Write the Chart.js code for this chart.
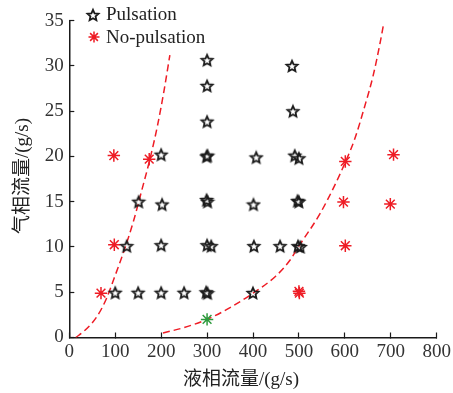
<!DOCTYPE html>
<html><head><meta charset="utf-8">
<script src="https://cdn.jsdelivr.net/npm/chart.js@4.4.1/dist/chart.umd.min.js"></script>
<style>html,body{margin:0;padding:0;background:#fff}canvas{display:block}</style>
</head><body>
<canvas id="c" width="453" height="393"></canvas>
<script>
// ---- data ----
const pulsationX = [100,150,200,250,298,301,400, 125,200,300,309,402,459,498,503, 151,202,299,301,401,497,500, 200,299,301,407,491,500, 300,300,300, 487,485];
const pulsationY = [4.95,4.95,4.95,4.95,5.0,4.9,4.93, 10.1,10.2,10.2,10.1,10.1,10.1,10.1,10.0, 15.0,14.7,15.2,15.0,14.7,15.1,15.0, 20.2,20.0,20.1,19.9,20.1,19.8, 23.85,27.8,30.65, 25.0,30.0];
const noPulsationX = [69,98,97,174,500,501,601,597,601,699,706];
const noPulsationY = [4.9,10.25,20.1,19.7,5.1,4.9,10.14,14.96,19.45,14.74,20.2];
const criticalX = [300];
const criticalY = [2.0];
const leftCurveX = [14,32,60,80,98,118,140,158,176,192,206,219];
const leftCurveY = [0,0.7,2.3,4.2,6.6,9.4,12.9,16.3,19.8,23.4,27.2,31.2];
const rightCurveX = [204,250,300,350,400,450,480,500,545,575,603,622,643,661,675,685];
const rightCurveY = [0.5,1.1,2.0,3.3,4.9,6.8,8.5,10.1,13.6,16.5,19.6,22.0,25.5,28.8,32.1,34.8];
const xTicks = [0,100,200,300,400,500,600,700,800];
const yTicks = [0,5,10,15,20,25,30,35];
const legendLabels = ['Pulsation','No-pulsation'];
const xTitle = '液相流量/(g/s)';
const yTitle = '气相流量/(g/s)';

const RED = '#ee1c25', GREEN = '#2e9a3e', BLACK = '#1a1a1a';
const SERIF = "'Liberation Serif','Times New Roman',serif";
const CJK = "'Liberation Serif','Noto Sans CJK SC',serif";

function pts(xs, ys){ return xs.map((x,i)=>({x:x, y:ys[i]})); }
function makeStar(size, ro, ri, color, lw){
  const c=document.createElement('canvas'); c.width=size; c.height=size;
  const g=c.getContext('2d'); g.beginPath();
  for(let i=0;i<10;i++){const r=i%2?ri:ro; const a=-Math.PI/2+i*Math.PI/5;
    const px=size/2+r*Math.cos(a), py=size/2+0.6+r*Math.sin(a); if(i) g.lineTo(px,py); else g.moveTo(px,py);}
  g.closePath(); g.strokeStyle=color; g.lineWidth=lw; g.lineJoin='miter'; g.stroke(); return c;
}
const starImg = makeStar(16, 5.8, 2.7, BLACK, 1.8);
function drawAsterisk(ctx, x, y, r, color, lw){
  ctx.save(); ctx.strokeStyle=color; ctx.lineWidth=lw; ctx.beginPath();
  for(let k=0;k<4;k++){const a=k*Math.PI/4; ctx.moveTo(x-r*Math.cos(a),y-r*Math.sin(a)); ctx.lineTo(x+r*Math.cos(a),y+r*Math.sin(a));}
  ctx.stroke(); ctx.restore();
}

const overlay = {
  id:'overlay',
  afterDraw(chart){
    const ctx = chart.ctx; ctx.save();
    // legend
    ctx.drawImage(starImg, 93-8, 15-8);
    drawAsterisk(ctx, 94, 37, 5.5, RED, 1.5);
    ctx.fillStyle = '#222'; ctx.font = '19px '+SERIF; ctx.textBaseline='middle'; ctx.textAlign='left';
    ctx.fillText(legendLabels[0], 106, 15);
    ctx.fillText(legendLabels[1], 106, 38);
    // axis titles
    ctx.font = '19px '+CJK; ctx.textAlign='center';
    ctx.fillText(xTitle, 241, 380);
    ctx.translate(23, 176); ctx.rotate(-Math.PI/2);
    ctx.fillText(yTitle, 0, 0);
    ctx.restore();
  }
};

const tickFont = {family: SERIF, size: 19};
new Chart(document.getElementById('c'), {
  type:'scatter',
  data:{ datasets:[
    {label:legendLabels[0], data:pts(pulsationX,pulsationY), pointStyle:starImg, pointRadius:6, showLine:false},
    {label:legendLabels[1], data:pts(noPulsationX,noPulsationY), pointStyle:'star', pointRadius:6.2, borderColor:RED, backgroundColor:RED, borderWidth:1.5, showLine:false},
    {label:'critical', data:pts(criticalX,criticalY), pointStyle:'star', pointRadius:6.2, borderColor:GREEN, backgroundColor:GREEN, borderWidth:1.5, showLine:false},
    {label:'left', data:pts(leftCurveX,leftCurveY), showLine:true, pointRadius:0, borderColor:RED, borderWidth:1.5, borderDash:[7,4], cubicInterpolationMode:'monotone', fill:false},
    {label:'right', data:pts(rightCurveX,rightCurveY), showLine:true, pointRadius:0, borderColor:RED, borderWidth:1.5, borderDash:[7,4], cubicInterpolationMode:'monotone', fill:false}
  ]},
  options:{
    responsive:false, animation:false, devicePixelRatio:1,
    layout:{padding:{left:0, top:20.7, right:16.3, bottom:0}},
    plugins:{legend:{display:false}, tooltip:{enabled:false}},
    scales:{
      x:{type:'linear', min:0, max:800,
        afterBuildTicks(s){ s.ticks = xTicks.map(v=>({value:v})); },
        afterFit(s){ s.height = 55.5; s.paddingLeft = 0; s.paddingRight = 0; },
        border:{display:true, color:BLACK, width:1.5},
        grid:{drawOnChartArea:false, drawTicks:true, tickLength:-5, tickColor:BLACK, tickWidth:1.2},
        ticks:{font:tickFont, color:'#333', padding:8.5, maxRotation:0, autoSkip:false}
      },
      y:{type:'linear', min:0, max:35,
        afterBuildTicks(s){ s.ticks = yTicks.map(v=>({value:v})); },
        afterFit(s){ s.width = 69.3; s.paddingTop = 0; s.paddingBottom = 0; },
        border:{display:true, color:BLACK, width:1.5},
        grid:{drawOnChartArea:false, drawTicks:true, tickLength:-5, tickColor:BLACK, tickWidth:1.2},
        ticks:{font:tickFont, color:'#333', padding:10.5, autoSkip:false}
      }
    }
  },
  plugins:[overlay]
});
</script>
</body></html>
